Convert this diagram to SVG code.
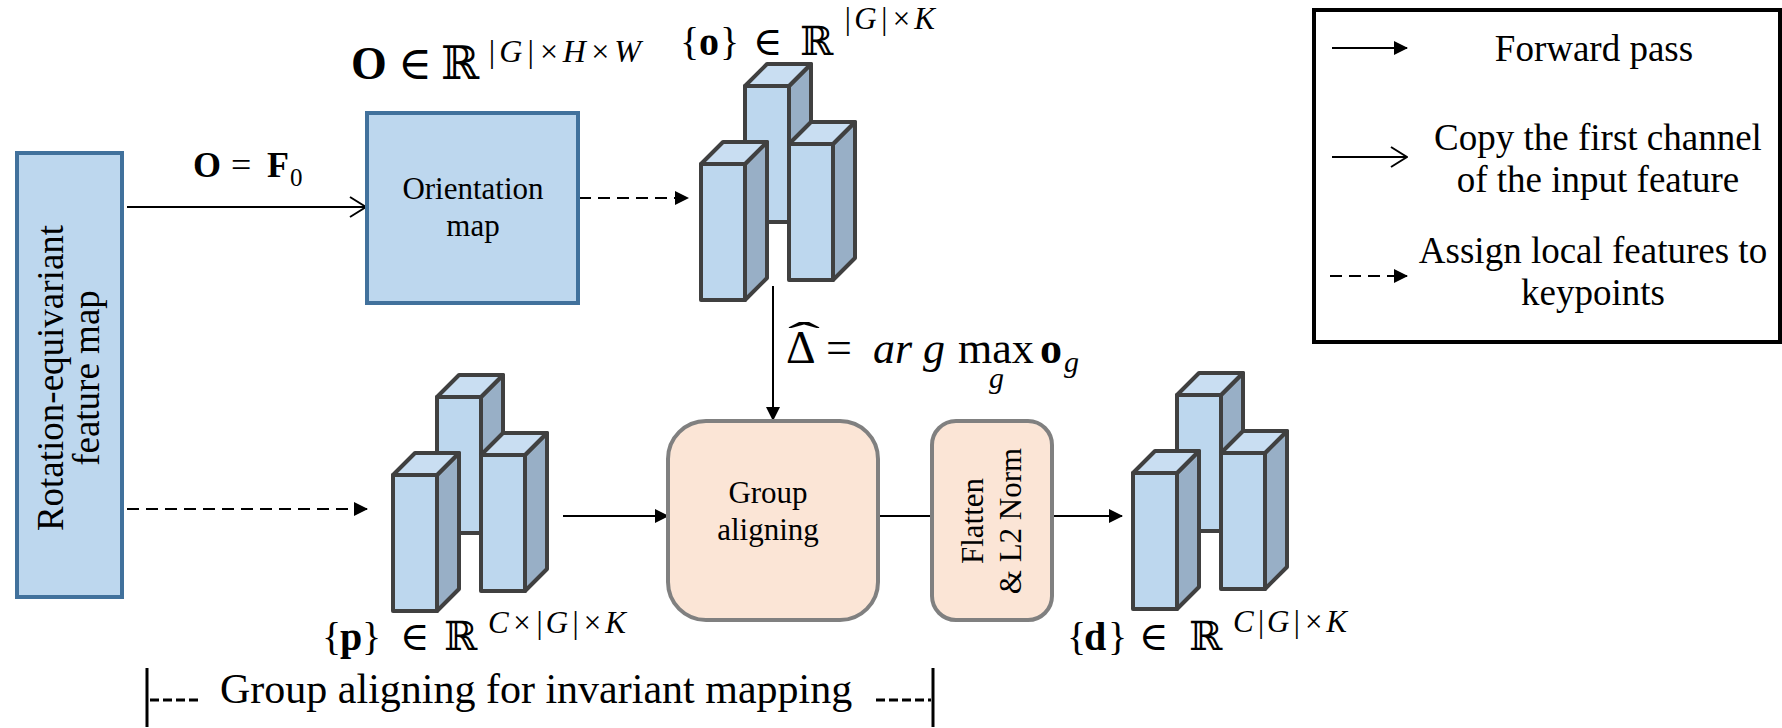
<svg xmlns="http://www.w3.org/2000/svg" xmlns:xlink="http://www.w3.org/1999/xlink" width="1782" height="728" viewBox="0 0 1782 728">
  <style>
    .serif { font-family: "Liberation Serif", "DejaVu Serif", serif; fill: #000; }
    .math { font-family: "Liberation Serif", "DejaVu Serif", serif; fill: #000; }
    .it { font-style: italic; }
    .bd { font-weight: bold; }
    .blue { fill: #bdd7ee; stroke: #41719c; stroke-width: 4; }
    .peach { fill: #fbe5d6; stroke: #808080; stroke-width: 4; }
    .wire { fill: none; stroke: #000; stroke-width: 2; }
    .dash { stroke-dasharray: 12 7; }
    .bar-front { fill: #bdd7ee; stroke: #404040; stroke-width: 4; stroke-linejoin: round; }
    .bar-side { fill: #98afc6; stroke: #404040; stroke-width: 4; stroke-linejoin: round; }
    .bar-top { fill: #c9def2; stroke: #404040; stroke-width: 4; stroke-linejoin: round; }
  </style>
  <defs>
    <marker id="head" viewBox="0 0 14 14" refX="13" refY="7" markerWidth="14" markerHeight="14" markerUnits="userSpaceOnUse" orient="auto">
      <path d="M0,0 L14,7 L0,14 Z" fill="#000"/>
    </marker>
    <marker id="open" viewBox="0 0 18 22" refX="17" refY="11" markerWidth="18" markerHeight="22" markerUnits="userSpaceOnUse" orient="auto">
      <path d="M1,1 L17,11 L1,21" fill="none" stroke="#000" stroke-width="2"/>
    </marker>
    <!-- one 3D column: front face at origin, 44 wide, 136 tall, depth 22 -->
    <g id="bar">
      <polygon class="bar-side" points="44,0 66,-22 66,114 44,136"/>
      <polygon class="bar-top" points="0,0 22,-22 66,-22 44,0"/>
      <rect class="bar-front" x="0" y="0" width="44" height="136"/>
    </g>
    <!-- cluster of three columns, anchored at the middle column -->
    <g id="stack">
      <use xlink:href="#bar" x="0" y="0"/>
      <use xlink:href="#bar" x="44" y="58"/>
      <use xlink:href="#bar" x="-44" y="78"/>
    </g>
  </defs>

  <!-- connectors -->
  <g id="connectors">
    <line class="wire" x1="127" y1="207" x2="366" y2="207" marker-end="url(#open)"/>
    <line class="wire dash" x1="579" y1="198" x2="688" y2="198" marker-end="url(#head)"/>
    <line class="wire" x1="773" y1="286" x2="773" y2="420" marker-end="url(#head)"/>
    <line class="wire dash" x1="127" y1="509" x2="367" y2="509" marker-end="url(#head)"/>
    <line class="wire" x1="563" y1="516" x2="668" y2="516" marker-end="url(#head)"/>
    <line class="wire" x1="878" y1="516" x2="932" y2="516"/>
    <line class="wire" x1="1052" y1="516" x2="1122" y2="516" marker-end="url(#head)"/>
  </g>

  <!-- input feature map -->
  <g id="feature-map">
    <rect class="blue" x="17" y="153" width="105" height="444"/>
    <text class="serif" font-size="37" text-anchor="middle" transform="translate(63,378) rotate(-90)">Rotation-equivariant</text>
    <text class="serif" font-size="37" text-anchor="middle" transform="translate(99,378) rotate(-90)">feature map</text>
  </g>

  <!-- edge label O = F0 -->
  <g id="label-copy">
    <text class="math" font-size="36" y="177"><tspan class="bd" x="193">O</tspan><tspan x="231">=</tspan><tspan class="bd" x="267">F</tspan><tspan x="290" y="186" font-size="25">0</tspan></text>
  </g>

  <!-- orientation map -->
  <g id="orientation-map">
    <rect class="blue" x="367" y="113" width="211" height="190"/>
    <text class="serif" font-size="31" text-anchor="middle" x="473" y="199">Orientation</text>
    <text class="serif" font-size="31" text-anchor="middle" x="473" y="236">map</text>
  </g>
  <g id="label-O">
    <text class="math" font-size="46" y="79"><tspan class="bd" x="351">O</tspan><tspan x="398">∈</tspan><tspan x="441">ℝ</tspan></text>
    <text class="math it" font-size="32" x="487" y="62" textLength="154" lengthAdjust="spacing">|G|×H×W</text>
  </g>

  <!-- keypoint orientations {o} -->
  <g id="keypoint-orientations">
    <use xlink:href="#stack" x="745" y="86"/>
    <text class="math" font-size="40" y="55"><tspan x="680">{</tspan><tspan class="bd" x="699">o</tspan><tspan x="720">}</tspan><tspan x="753">∈</tspan><tspan x="800">ℝ</tspan></text>
    <text class="math it" font-size="31" x="843" y="29" textLength="92" lengthAdjust="spacing">|G|×K</text>
  </g>

  <!-- argmax label on vertical connector -->
  <g id="label-argmax">
    <text class="math" font-size="46" x="786" y="363">Δ</text>
    <text class="math" font-size="40" transform="translate(788,350) scale(2.4,1)">ˆ</text>
    <text class="math" font-size="46" x="826" y="363">=</text>
    <text class="math it" font-size="44" x="873" y="363">ar g</text>
    <text class="math" font-size="44" x="958" y="363">max</text>
    <text class="math it" font-size="30" x="989" y="388">g</text>
    <text class="math bd" font-size="44" x="1040" y="363">o</text>
    <text class="math it" font-size="30" x="1064" y="372">g</text>
  </g>

  <!-- local features {p} -->
  <g id="local-features">
    <use xlink:href="#stack" x="437" y="397"/>
    <text class="math" font-size="40" y="650"><tspan x="322">{</tspan><tspan class="bd" x="340">p</tspan><tspan x="362">}</tspan><tspan x="400">∈</tspan><tspan x="444">ℝ</tspan></text>
    <text class="math it" font-size="31" x="488" y="633" textLength="138" lengthAdjust="spacing">C×|G|×K</text>
  </g>

  <!-- group aligning -->
  <g id="group-aligning">
    <rect class="peach" x="668" y="421" width="210" height="199" rx="38" ry="38"/>
    <text class="serif" font-size="31" text-anchor="middle" x="768" y="503">Group</text>
    <text class="serif" font-size="31" text-anchor="middle" x="768" y="540">aligning</text>
  </g>

  <!-- flatten and normalise -->
  <g id="flatten-norm">
    <rect class="peach" x="932" y="421" width="120" height="199" rx="24" ry="24"/>
    <text class="serif" font-size="31" text-anchor="middle" transform="translate(983,521) rotate(-90)">Flatten</text>
    <text class="serif" font-size="31" text-anchor="middle" transform="translate(1021,521) rotate(-90)">&amp; L2 Norm</text>
  </g>

  <!-- descriptors {d} -->
  <g id="descriptors">
    <use xlink:href="#stack" x="1177" y="395"/>
    <text class="math" font-size="40" y="650"><tspan x="1067">{</tspan><tspan class="bd" x="1084">d</tspan><tspan x="1108">}</tspan><tspan x="1139">∈</tspan><tspan x="1189">ℝ</tspan></text>
    <text class="math it" font-size="31" x="1233" y="632" textLength="114" lengthAdjust="spacing">C|G|×K</text>
  </g>

  <!-- span bracket under the aligning stage -->
  <g id="span-bracket">
    <line x1="147" y1="668" x2="147" y2="727" stroke="#000" stroke-width="3"/>
    <line x1="150" y1="700" x2="200" y2="700" stroke="#000" stroke-width="3" stroke-dasharray="9 4"/>
    <text class="serif" font-size="42" x="220" y="703">Group aligning for invariant mapping</text>
    <line x1="876" y1="700" x2="931" y2="700" stroke="#000" stroke-width="3" stroke-dasharray="9 4"/>
    <line x1="933" y1="668" x2="933" y2="727" stroke="#000" stroke-width="3"/>
  </g>

  <!-- legend -->
  <g id="legend">
    <rect x="1314" y="10" width="466" height="332" fill="#fff" stroke="#000" stroke-width="4"/>
    <line class="wire" x1="1332" y1="48" x2="1407" y2="48" marker-end="url(#head)"/>
    <text class="serif" font-size="37" text-anchor="middle" x="1594" y="61">Forward pass</text>
    <line class="wire" x1="1332" y1="157" x2="1407" y2="157" marker-end="url(#open)"/>
    <text class="serif" font-size="37" text-anchor="middle" x="1598" y="150">Copy the first channel</text>
    <text class="serif" font-size="37" text-anchor="middle" x="1598" y="192">of the input feature</text>
    <line class="wire dash" x1="1330" y1="276" x2="1407" y2="276" stroke-dasharray="12 6" marker-end="url(#head)"/>
    <text class="serif" font-size="37" text-anchor="middle" x="1593" y="263">Assign local features to</text>
    <text class="serif" font-size="37" text-anchor="middle" x="1593" y="305">keypoints</text>
  </g>
</svg>
